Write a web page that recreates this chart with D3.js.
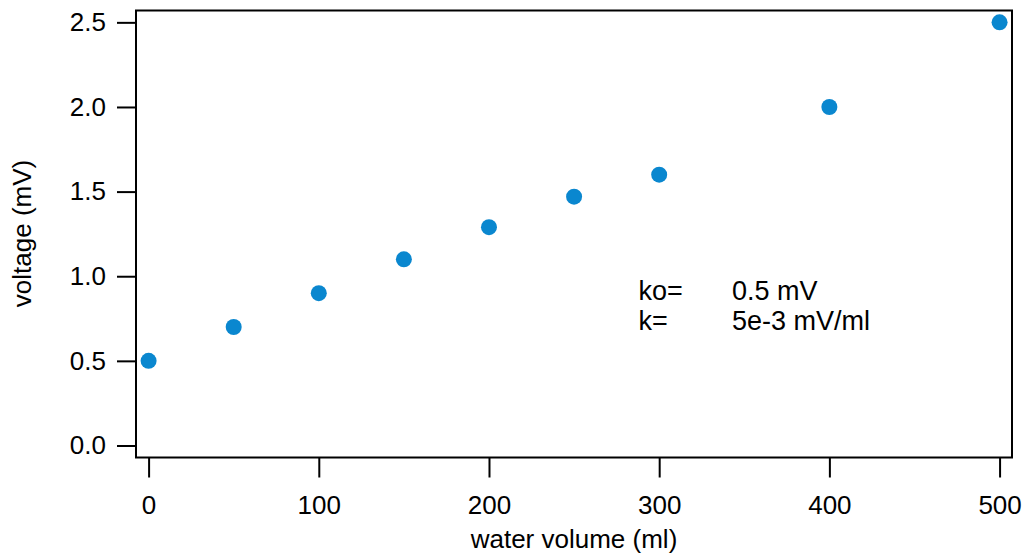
<!DOCTYPE html>
<html><head><meta charset="utf-8">
<script src="https://cdn.jsdelivr.net/npm/d3@7"></script>
<style>body{margin:0;background:#fff}text{font-family:"Liberation Sans",Arial,sans-serif}</style>
</head><body><svg id="c" width="1027" height="558"></svg>
<script>
const volumes = [0, 50, 100, 150, 200, 250, 300, 400, 500];
const voltages = [0.5, 0.7, 0.9, 1.1, 1.29, 1.47, 1.6, 2.0, 2.5];
const xTicks = [0, 100, 200, 300, 400, 500];
const yTicks = [0, 0.5, 1.0, 1.5, 2.0, 2.5];
const annotLabels = ["ko=", "k="];
const annotValues = ["0.5 mV", "5e-3 mV/ml"];

const L = 136, R = 1012, T = 10.5, B = 457.5;
const FS = 26;
const svg = d3.select("#c");
const x = d3.scaleLinear().domain([-7.4, 507.3]).range([L, R]);
const y = d3.scaleLinear().domain([-0.071, 2.57]).range([B, T]);

const xa = svg.append("g").attr("transform", `translate(0,${B})`)
  .call(d3.axisBottom(x).tickValues(xTicks).tickSize(20).tickPadding(18).tickFormat(d3.format("d")));
const ya = svg.append("g").attr("transform", `translate(${L},0)`)
  .call(d3.axisLeft(y).tickValues(yTicks).tickSize(19).tickPadding(11).tickFormat(d3.format(".1f")));
[xa, ya].forEach(a => {
  a.attr("font-size", FS).attr("font-family", null);
  a.select(".domain").remove();
  a.selectAll("line").attr("stroke", "#000").attr("stroke-width", 2);
  a.selectAll("text").attr("font-size", FS).attr("fill", "#000");
});

svg.append("rect").attr("x", L).attr("y", T).attr("width", R - L).attr("height", B - T)
  .attr("fill", "none").attr("stroke", "#000").attr("stroke-width", 2);

svg.append("g").selectAll("circle").data(volumes).join("circle")
  .attr("cx", (d) => x(d)).attr("cy", (d, i) => y(voltages[i])).attr("r", 8)
  .attr("fill", "#0a87cf");

svg.append("text").attr("x", (L + R) / 2).attr("y", 548).attr("text-anchor", "middle")
  .attr("font-size", FS).text("water volume (ml)");
svg.append("text").attr("transform", `translate(31,233.5) rotate(-90)`)
  .attr("text-anchor", "middle").attr("font-size", FS).text("voltage (mV)");

annotLabels.forEach((t, i) => {
  svg.append("text").attr("x", 638.5).attr("y", 300 + i * 29.5).attr("font-size", 27).text(t);
  svg.append("text").attr("x", 732).attr("y", 300 + i * 29.5).attr("font-size", 27).text(annotValues[i]);
});
</script></body></html>
